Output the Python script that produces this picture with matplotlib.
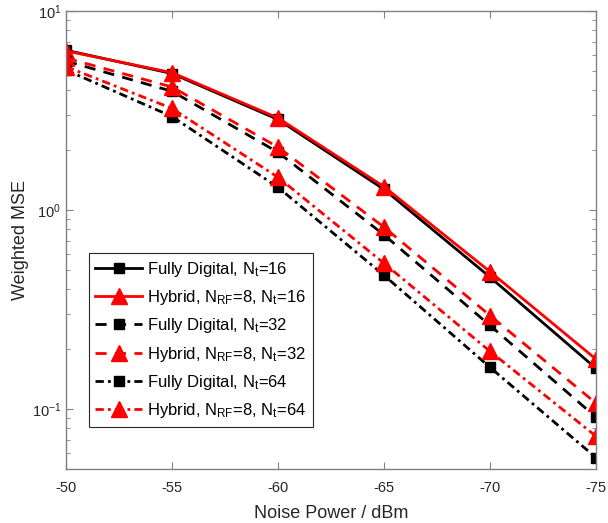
import numpy as np
import matplotlib
matplotlib.use('Agg')
import matplotlib.pyplot as plt

plt.rcParams['font.family'] = ['Liberation Sans', 'DejaVu Sans']
plt.rcParams['mathtext.fontset'] = 'custom'
plt.rcParams['mathtext.rm'] = 'Liberation Sans'
plt.rcParams['mathtext.it'] = 'Liberation Sans'

# Noise power (dBm)
noise_power = [-50, -55, -60, -65, -70, -75]

# Weighted MSE
fd_16 = [6.35, 4.85, 2.85, 1.27, 0.46, 0.16]
hy_16 = [6.3, 4.9, 2.9, 1.31, 0.49, 0.178]
fd_32 = [5.6, 3.95, 1.95, 0.75, 0.263, 0.091]
hy_32 = [5.8, 4.15, 2.07, 0.82, 0.295, 0.107]
fd_64 = [5.05, 2.95, 1.3, 0.47, 0.162, 0.057]
hy_64 = [5.25, 3.24, 1.46, 0.54, 0.195, 0.073]

labels = [r'Fully Digital, $\mathregular{N_t}$=16',
          r'Hybrid, $\mathregular{N_{RF}}$=8, $\mathregular{N_t}$=16',
          r'Fully Digital, $\mathregular{N_t}$=32',
          r'Hybrid, $\mathregular{N_{RF}}$=8, $\mathregular{N_t}$=32',
          r'Fully Digital, $\mathregular{N_t}$=64',
          r'Hybrid, $\mathregular{N_{RF}}$=8, $\mathregular{N_t}$=64']

fig = plt.figure(figsize=(6.08, 5.23), dpi=100)
ax = fig.add_axes([0.1086, 0.1033, 0.8717, 0.8757])

sq = dict(color='black', marker='s', markersize=7.5, linewidth=2)
tri = dict(color='red', marker='^', markersize=11, linewidth=2)

ax.semilogy(noise_power, fd_16, linestyle='-', label=labels[0], **sq)
ax.semilogy(noise_power, hy_16, linestyle='-', label=labels[1], **tri)
ax.semilogy(noise_power, fd_32, linestyle=(0, (4, 3)), label=labels[2], **sq)
ax.semilogy(noise_power, hy_32, linestyle=(0, (4, 3)), label=labels[3], **tri)
ax.semilogy(noise_power, fd_64, linestyle=(0, (3, 1.5, 1, 1.5)), label=labels[4], **sq)
ax.semilogy(noise_power, hy_64, linestyle=(0, (3, 1.5, 1, 1.5)), label=labels[5], **tri)

ax.set_xlim(-50, -75)
ax.set_ylim(0.05, 10)
ax.set_xticks(noise_power)
ax.set_xticklabels([str(v) for v in noise_power])

ax.set_xlabel('Noise Power / dBm', fontsize=13, color='#262626', labelpad=7)
ax.set_ylabel('Weighted MSE', fontsize=13, color='#262626', labelpad=2)

for s in ax.spines.values():
    s.set_color('#808080')
    s.set_linewidth(1)
ax.tick_params(which='both', direction='in', top=True, right=True,
               colors='#808080', labelcolor='#262626', labelsize=10.5)
ax.tick_params(which='major', length=5)
ax.tick_params(which='minor', length=3)
ax.tick_params(axis='x', pad=9)

leg = ax.legend(loc='lower left', bbox_to_anchor=(0.043, 0.092), fontsize=12,
                fancybox=False, edgecolor='#262626', framealpha=1,
                handlelength=2.8, labelspacing=0.56, borderpad=0.4,
                handletextpad=0.3, borderaxespad=0)
leg.get_frame().set_linewidth(0.8)

fig.savefig('out.png', dpi=100)
